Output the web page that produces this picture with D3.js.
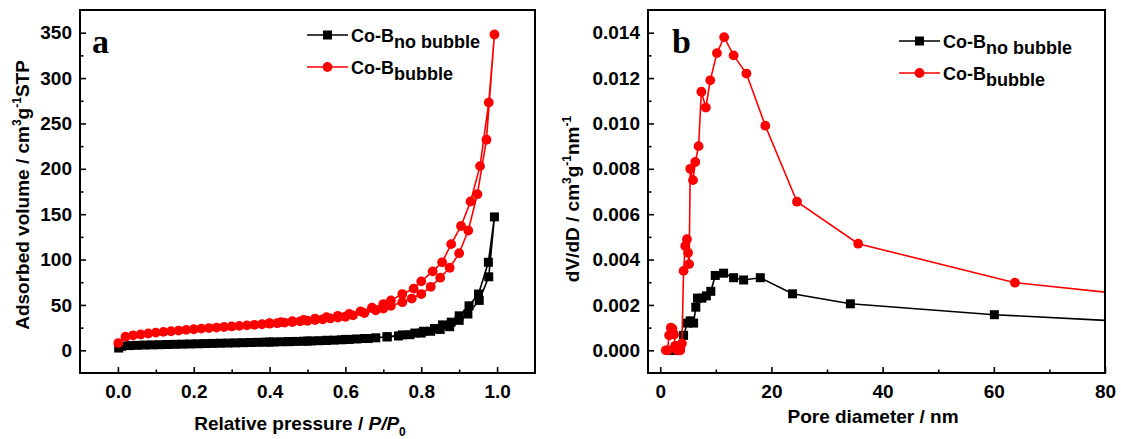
<!DOCTYPE html>
<html>
<head>
<meta charset="UTF-8">
<title>Co-B N2 isotherm and pore size distribution</title>
<style>
body { margin: 0; background: #fff; }
svg { display: block; font-family: "Liberation Sans", Arial, sans-serif; font-weight: bold; }
.frame { fill: none; stroke: #000; stroke-width: 2; }
.title { font-size: 19px; }
.legend { font-size: 18px; }
.letter { font-family: "Liberation Serif", "Times New Roman", serif; font-size: 34px; font-weight: bold; }
</style>
</head>
<body>
<svg width="1121" height="439"></svg>
<script src="https://cdnjs.cloudflare.com/ajax/libs/d3/7.8.5/d3.min.js"></script>
<script>

// ---- panel a : isotherm (relative pressure, adsorbed volume) ----
// sequence = adsorption branch then desorption branch
var noBubbleP = [0.002, 0.01, 0.03, 0.05, 0.07, 0.09, 0.11, 0.13, 0.15, 0.17, 0.19, 0.21, 0.23, 0.25, 0.27, 0.29,
  0.31, 0.33, 0.35, 0.37, 0.39, 0.41, 0.43, 0.45, 0.47, 0.49, 0.51, 0.53, 0.55, 0.57, 0.59, 0.61, 0.63, 0.65,
  0.68, 0.71, 0.74, 0.77, 0.80, 0.825, 0.85, 0.875, 0.90, 0.923, 0.953, 0.978, 0.993,
  0.977, 0.951, 0.926, 0.90, 0.879, 0.856, 0.835, 0.806, 0.783, 0.75, 0.71, 0.66, 0.60, 0.55, 0.50, 0.45, 0.40];
var noBubbleV = [2.5, 4.5, 5.2, 5.5, 5.8, 6.0, 6.2, 6.4, 6.6, 6.8, 7.0, 7.2, 7.4, 7.6, 7.8, 8.0,
  8.2, 8.4, 8.6, 8.8, 9.0, 9.2, 9.4, 9.6, 9.8, 10.0, 10.3, 10.6, 10.9, 11.2, 11.6, 12.0, 12.5, 13.0,
  13.8, 14.8, 15.8, 17.2, 19, 21, 23, 26, 33, 40, 55, 81, 147,
  97, 62, 49, 38, 31, 28, 24, 21, 19, 17, 15, 13, 12, 11, 10.2, 9.6, 9.1];

var bubbleP = [0.001, 0.02, 0.04, 0.06, 0.08, 0.10, 0.12, 0.14, 0.16, 0.18, 0.20, 0.22, 0.24, 0.26, 0.28, 0.30,
  0.32, 0.34, 0.36, 0.38, 0.40, 0.42, 0.44, 0.46, 0.48, 0.50, 0.52, 0.54, 0.56, 0.58, 0.60, 0.62, 0.65,
  0.68, 0.70, 0.72, 0.75, 0.775, 0.80, 0.825, 0.85, 0.875, 0.90, 0.924, 0.948, 0.972, 0.993,
  0.978, 0.955, 0.93, 0.905, 0.879, 0.855, 0.83, 0.80, 0.78, 0.75, 0.72, 0.70, 0.67, 0.64, 0.61, 0.58,
  0.55, 0.52, 0.49, 0.46, 0.43, 0.40];
var bubbleV = [8, 15, 16.5, 17.5, 18.5, 19.5, 20.3, 21, 21.8, 22.5, 23.2, 23.9, 24.5, 25.1, 25.7, 26.3,
  26.9, 27.5, 28.1, 28.7, 29.3, 29.9, 30.5, 31.2, 31.9, 32.6, 33.4, 34.2, 35.1, 36.0, 37.0, 38.5, 41,
  44, 46, 49, 53, 57, 62, 70, 80, 91, 107, 132, 172, 232, 348,
  273, 203, 164, 137, 117, 97, 87, 76, 68, 62, 55, 51, 47, 43, 40, 38,
  36.5, 35, 33.5, 32, 31, 30];

var aXTicks = [0, 0.2, 0.4, 0.6, 0.8, 1.0];
var aXMinor = [0.1, 0.3, 0.5, 0.7, 0.9];
var aYTicks = [0, 50, 100, 150, 200, 250, 300, 350];
var aYMinor = [25, 75, 125, 175, 225, 275, 325];

// ---- panel b : pore size distribution (pore diameter nm, dV/dD) ----
var noBubbleD = [2.0, 2.6, 3.1, 3.6, 4.2, 4.9, 5.4, 6.0, 6.4, 6.7, 7.5, 8.3, 9.1, 9.9, 11.4, 13.2, 15.0, 18.0,
  23.8, 34.2, 60.1, 98];
var noBubbleDV = [0, 0, 0, 0.0002, 0.00066, 0.0012, 0.0013, 0.0012, 0.0019, 0.0023, 0.0023, 0.0024, 0.0026,
  0.0033, 0.0034, 0.0032, 0.0031, 0.0032, 0.00249, 0.00205, 0.00157, 0.00109];

var bubbleD = [1.0, 1.3, 1.6, 1.9, 2.2, 2.5, 2.7, 3.0, 3.3, 3.6, 3.9, 4.2, 4.5, 4.8, 5.0, 5.2, 5.4, 5.9,
  6.3, 6.9, 7.4, 8.2, 9.0, 10.2, 11.5, 13.2, 15.5, 18.9, 24.6, 35.6, 63.8, 98];
var bubbleDV = [0, 0, 0.00066, 0.001, 0.00095, 0.0007, 0.0002, 0, 0, 0, 0.0003, 0.0035, 0.0046, 0.0049,
  0.0043, 0.0038, 0.008, 0.0075, 0.0083, 0.009, 0.0114, 0.0107, 0.0119, 0.0131, 0.0138, 0.013, 0.0122,
  0.0099, 0.00655, 0.0047, 0.00298, 0.0021];

var bXTicks = [0, 20, 40, 60, 80];
var bXMinor = [10, 30, 50, 70];
var bYTicks = [0, 0.002, 0.004, 0.006, 0.008, 0.010, 0.012, 0.014];
var bYMinor = [0.001, 0.003, 0.005, 0.007, 0.009, 0.011, 0.013];

var svg = d3.select("svg");

function zip(xs, ys) { return xs.map(function(v, i) { return [v, ys[i]]; }); }

function panel(o) {
  var x = d3.scaleLinear().domain(o.xDomain).range([o.left, o.right]),
      y = d3.scaleLinear().domain(o.yDomain).range([o.bottom, o.top]);

  var g = svg.append("g");

  g.append("clipPath").attr("id", o.id + "-clip")
    .append("rect")
      .attr("x", o.left).attr("y", o.top)
      .attr("width", o.right - o.left).attr("height", o.bottom - o.top);

  function styleAxis(s) {
    s.select(".domain").remove();
    s.attr("font-family", null).attr("font-size", 19);
    s.selectAll("line").attr("stroke-width", 1.6);
  }

  // major + minor ticks, pointing inward
  g.append("g").attr("transform", "translate(0," + o.bottom + ")")
    .call(d3.axisBottom(x).tickValues(o.xTicks).tickSize(-6).tickPadding(11.5).tickFormat(o.xFmt))
    .call(styleAxis);
  g.append("g").attr("transform", "translate(0," + o.bottom + ")")
    .call(d3.axisBottom(x).tickValues(o.xMinor).tickSize(-3.5).tickFormat(""))
    .call(styleAxis);
  g.append("g").attr("transform", "translate(" + o.left + ",0)")
    .call(d3.axisLeft(y).tickValues(o.yTicks).tickSize(-6).tickPadding(8).tickFormat(o.yFmt))
    .call(styleAxis);
  g.append("g").attr("transform", "translate(" + o.left + ",0)")
    .call(d3.axisLeft(y).tickValues(o.yMinor).tickSize(-3.5).tickFormat(""))
    .call(styleAxis);

  var line = d3.line().x(function(d) { return x(d[0]); }).y(function(d) { return y(d[1]); });
  var plot = g.append("g").attr("clip-path", "url(#" + o.id + "-clip)");

  o.series.forEach(function(s) {
    var data = zip(s.xs, s.ys);
    plot.append("path").datum(data)
      .attr("fill", "none").attr("stroke", s.color).attr("stroke-width", 1.6)
      .attr("d", line);
    if (s.shape === "square") {
      plot.selectAll(null).data(data).enter().append("rect")
        .attr("x", function(d) { return x(d[0]) - 4.5; })
        .attr("y", function(d) { return y(d[1]) - 4.5; })
        .attr("width", 9).attr("height", 9)
        .attr("fill", s.color);
    } else {
      plot.selectAll(null).data(data).enter().append("circle")
        .attr("cx", function(d) { return x(d[0]); })
        .attr("cy", function(d) { return y(d[1]); })
        .attr("r", 4.9)
        .attr("fill", s.color);
    }
  });

  g.append("rect").attr("class", "frame")
    .attr("x", o.left).attr("y", o.top)
    .attr("width", o.right - o.left).attr("height", o.bottom - o.top);

  // legend
  o.series.forEach(function(s, i) {
    var ly = o.legendY[i];
    g.append("line")
      .attr("x1", o.legendX).attr("x2", o.legendX + 41)
      .attr("y1", ly).attr("y2", ly)
      .attr("stroke", s.color).attr("stroke-width", 1.6);
    if (s.shape === "square") {
      g.append("rect").attr("x", o.legendX + 16).attr("y", ly - 4.5)
        .attr("width", 9).attr("height", 9).attr("fill", s.color);
    } else {
      g.append("circle").attr("cx", o.legendX + 20.5).attr("cy", ly).attr("r", 4.9).attr("fill", s.color);
    }
    var t = g.append("text").attr("class", "legend")
      .attr("x", o.legendX + 44).attr("y", ly + 6.5);
    t.append("tspan").text("Co-B");
    t.append("tspan").attr("dy", 6).text(s.label);
  });

  g.append("text").attr("class", "letter")
    .attr("x", o.letterX).attr("y", 53).text(o.letter);

  return g;
}

var ga = panel({
  id: "a", left: 80, right: 535, top: 10, bottom: 373,
  xDomain: [-0.1, 1.1], yDomain: [-25, 375],
  xTicks: aXTicks, xMinor: aXMinor, yTicks: aYTicks, yMinor: aYMinor,
  xFmt: d3.format(".1f"), yFmt: d3.format("d"),
  series: [
    {xs: noBubbleP, ys: noBubbleV, color: "#000", shape: "square", label: "no bubble"},
    {xs: bubbleP, ys: bubbleV, color: "#ff0000", shape: "circle", label: "bubble"}
  ],
  legendX: 307, legendY: [35, 67], letter: "a", letterX: 92
});

var gb = panel({
  id: "b", left: 648, right: 1105, top: 10, bottom: 373,
  xDomain: [-2.2, 80], yDomain: [-0.001, 0.015],
  xTicks: bXTicks, xMinor: bXMinor, yTicks: bYTicks, yMinor: bYMinor,
  xFmt: d3.format("d"), yFmt: d3.format(".3f"),
  series: [
    {xs: noBubbleD, ys: noBubbleDV, color: "#000", shape: "square", label: "no bubble"},
    {xs: bubbleD, ys: bubbleDV, color: "#ff0000", shape: "circle", label: "bubble"}
  ],
  legendX: 899, legendY: [41, 73], letter: "b", letterX: 672
});

// axis titles
var ta = svg.append("text").attr("class", "title")
  .attr("transform", "translate(29,195) rotate(-90)")
  .attr("text-anchor", "middle");
ta.append("tspan").text("Adsorbed volume / cm");
ta.append("tspan").attr("dy", -8).attr("font-size", 12).text("3");
ta.append("tspan").attr("dy", 8).text("g");
ta.append("tspan").attr("dy", -8).attr("font-size", 12).text("-1");
ta.append("tspan").attr("dy", 8).text("STP");

var tb = svg.append("text").attr("class", "title")
  .attr("transform", "translate(579,199) rotate(-90)")
  .attr("text-anchor", "middle");
tb.append("tspan").text("dV/dD / cm");
tb.append("tspan").attr("dy", -8).attr("font-size", 12).text("3");
tb.append("tspan").attr("dy", 8).text("g");
tb.append("tspan").attr("dy", -8).attr("font-size", 12).text("-1");
tb.append("tspan").attr("dy", 8).text("nm");
tb.append("tspan").attr("dy", -8).attr("font-size", 12).text("-1");

var xa = svg.append("text").attr("class", "title")
  .attr("x", 300).attr("y", 430).attr("text-anchor", "middle");
xa.append("tspan").text("Relative pressure / ");
xa.append("tspan").attr("font-style", "italic").text("P/P");
xa.append("tspan").attr("dy", 6).attr("font-size", 12).text("0");

svg.append("text").attr("class", "title")
  .attr("x", 873).attr("y", 423).attr("text-anchor", "middle")
  .text("Pore diameter / nm");

</script>
</body>
</html>
